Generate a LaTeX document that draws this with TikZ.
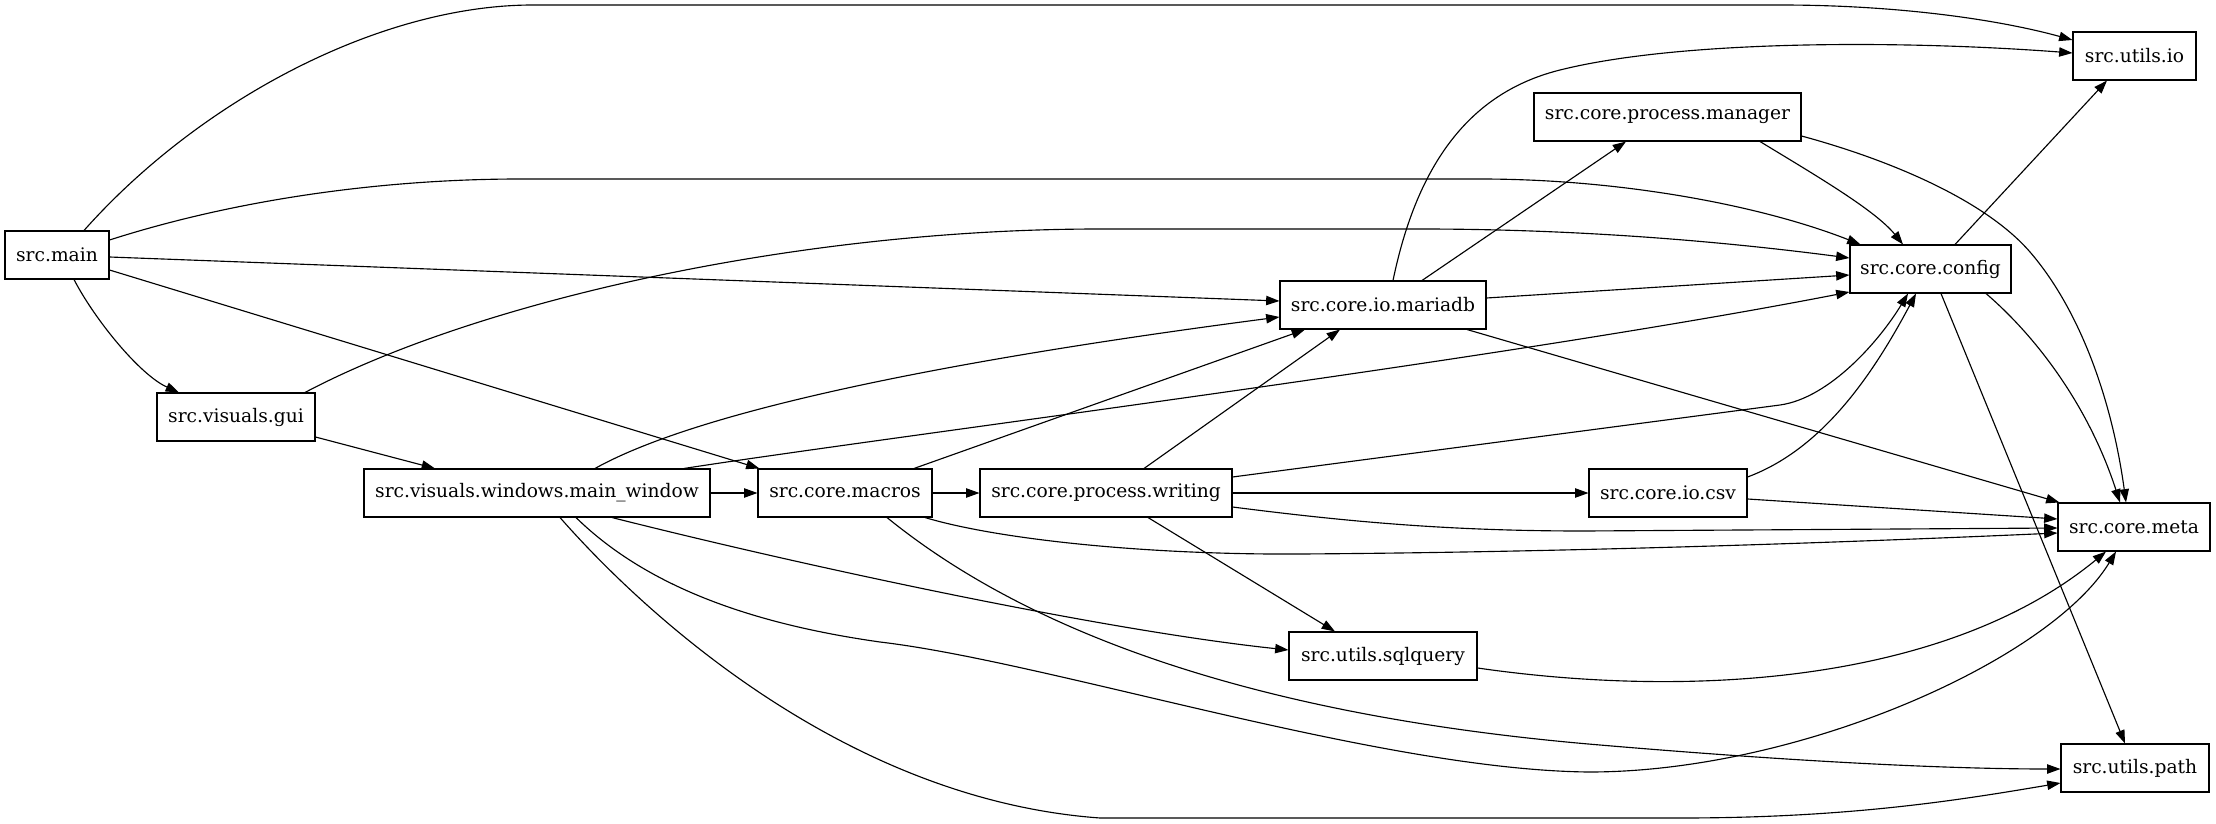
\documentclass[tikz,border=0pt]{standalone}
\usepackage{fontspec}
\setmainfont{DejaVu Serif}
\usetikzlibrary{arrows.meta,calc}
\begin{document}
\begin{tikzpicture}[x=0.75pt,y=-0.75pt,
  box/.style={draw,line width=0.8pt,minimum height=36pt,inner sep=0pt,font=\fontsize{14pt}{16pt}\selectfont},
  dep/.style={draw,line width=0.85pt,-{Triangle[length=10pt,width=7pt]}}]
\useasboundingbox (0,0) rectangle (2216,824);
% nodes
\node[box,minimum width=78pt] (main) at (57,255) {src.main};
\node[box,minimum width=118.5pt] (gui) at (236,417) {src.visuals.gui};
\node[box,minimum width=259.5pt] (mw) at (537,493) {src.visuals.windows.main\_window};
\node[box,minimum width=130.5pt] (macros) at (845,493) {src.core.macros};
\node[box,minimum width=189pt] (writing) at (1106,493) {src.core.process.writing};
\node[box,minimum width=154.5pt] (mariadb) at (1383,305) {src.core.io.mariadb};
\node[box,minimum width=200.25pt] (manager) at (1667.5,117) {src.core.process.manager};
\node[box,minimum width=120.75pt] (config) at (1930.5,269) {src.core.config};
\node[box,minimum width=92.25pt] (io) at (2134.5,56) {src.utils.io};
\node[box,minimum width=118.5pt] (csv) at (1668,493) {src.core.io.csv};
\node[box,minimum width=114pt] (meta) at (2134,527) {src.core.meta};
\node[box,minimum width=141pt] (sql) at (1383,656) {src.utils.sqlquery};
\node[box,minimum width=111pt] (path) at (2135,768) {src.utils.path};
% edges from src.main
\draw[dep] ($(main.north)+(27,0)$) .. controls (200,100) and (380,5) .. (533,5) -- (1780,5) .. controls (1900,5) and (2000,20) .. ($(io.west)+(0,-16)$);
\draw[dep] ($(main.east)+(0,-15)$) .. controls (250,195) and (400,179) .. (520,179) -- (1480,179) .. controls (1620,179) and (1760,205) .. ($(config.north)+(-70,0)$);
\draw[dep] ($(main.east)+(0,2)$) -- ($(mariadb.west)+(0,-4)$);
\draw[dep] ($(main.east)+(0,15)$) -- ($(macros.north west)+(2,0)$);
\draw[dep] ($(main.south)+(17,0)$) .. controls (95,320) and (140,375) .. ($(gui.north)+(-57,0)$);
% src.visuals.gui
\draw[dep] ($(gui.north)+(69,0)$) .. controls (480,300) and (800,229) .. (1100,229) -- (1420,229) .. controls (1600,229) and (1750,245) .. ($(config.west)+(0,-11)$);
\draw[dep] ($(gui.east)+(0,20)$) -- ($(mw.north)+(-102,0)$);
% main_window
\draw[dep] ($(mw.north)+(58,0)$) .. controls (700,410) and (950,360) .. ($(mariadb.west)+(0,12)$);
\draw[dep] ($(mw.north)+(147,0)$) .. controls (900,435) and (1500,360) .. ($(config.west)+(0,23)$);
\draw[dep] (mw.east) -- (macros.west);
\draw[dep] ($(mw.south)+(75,0)$) .. controls (800,565) and (1100,630) .. ($(sql.west)+(0,-6)$);
\draw[dep] ($(mw.south)+(39,0)$) .. controls (650,590) and (760,625) .. (880,642) .. controls (1050,662) and (1380,770) .. (1589,772) .. controls (1800,772) and (2050,660) .. ($(meta.south)+(-18,0)$);
\draw[dep] ($(mw.south)+(23,0)$) .. controls (650,620) and (850,800) .. (1100,818) -- (1680,818) .. controls (1850,818) and (1960,800) .. ($(path.west)+(0,15)$);
% macros
\draw[dep] ($(macros.north)+(69,0)$) -- ($(mariadb.south)+(-78,0)$);
\draw[dep] (macros.east) -- (writing.west);
\draw[dep] ($(macros.south)+(80,0)$) .. controls (1000,540) and (1150,555) .. (1300,554) .. controls (1600,552) and (1900,540) .. ($(meta.west)+(0,6)$);
\draw[dep] ($(macros.south)+(42,0)$) .. controls (1050,650) and (1300,720) .. (1600,745) .. controls (1800,762) and (1950,769) .. ($(path.west)+(0,1)$);
% writing
\draw[dep] ($(writing.north)+(38,0)$) -- ($(mariadb.south)+(-43,0)$);
\draw[dep] ($(writing.east)+(0,-16)$) -- (1780,405) .. controls (1830,398) and (1880,340) .. ($(config.south)+(-22.5,0)$);
\draw[dep] (writing.east) -- (csv.west);
\draw[dep] ($(writing.east)+(0,14)$) .. controls (1350,522) and (1450,531) .. (1584,531) -- ($(meta.west)+(0,1)$);
\draw[dep] ($(writing.south)+(42,0)$) -- ($(sql.north)+(-48,0)$);
% mariadb
\draw[dep] ($(mariadb.north)+(10,0)$) .. controls (1420,150) and (1480,90) .. (1560,70) .. controls (1680,40) and (1900,40) .. ($(io.west)+(0,-3)$);
\draw[dep] ($(mariadb.north)+(39,0)$) -- ($(manager.south)+(-41.5,0)$);
\draw[dep] ($(mariadb.east)+(0,-7)$) -- ($(config.west)+(0,6)$);
\draw[dep] ($(mariadb.south)+(84,0)$) -- ($(meta.north west)+(2,0)$);
% manager
\draw[dep] ($(manager.south)+(92.5,0)$) .. controls (1815,175) and (1875,210) .. ($(config.north)+(-27.5,0)$);
\draw[dep] ($(manager.east)+(0,19)$) .. controls (1890,160) and (1985,200) .. (2030,252) .. controls (2080,310) and (2112,400) .. ($(meta.north)+(-8,0)$);
% config
\draw[dep] ($(config.north)+(24.5,0)$) -- ($(io.south)+(-27.5,0)$);
\draw[dep] ($(config.south)+(55.5,0)$) .. controls (2040,340) and (2090,410) .. ($(meta.north)+(-14,0)$);
\draw[dep] ($(config.south)+(10.5,0)$) -- ($(path.north)+(-10,0)$);
% csv
\draw[dep] ($(csv.east)+(0,-16)$) .. controls (1820,450) and (1870,380) .. ($(config.south)+(-14.5,0)$);
\draw[dep] ($(csv.east)+(0,6)$) -- ($(meta.west)+(0,-8)$);
% sqlquery
\draw[dep] ($(sql.east)+(0,12)$) .. controls (1700,700) and (1950,680) .. ($(meta.south)+(-28,0)$);
\end{tikzpicture}
\end{document}
